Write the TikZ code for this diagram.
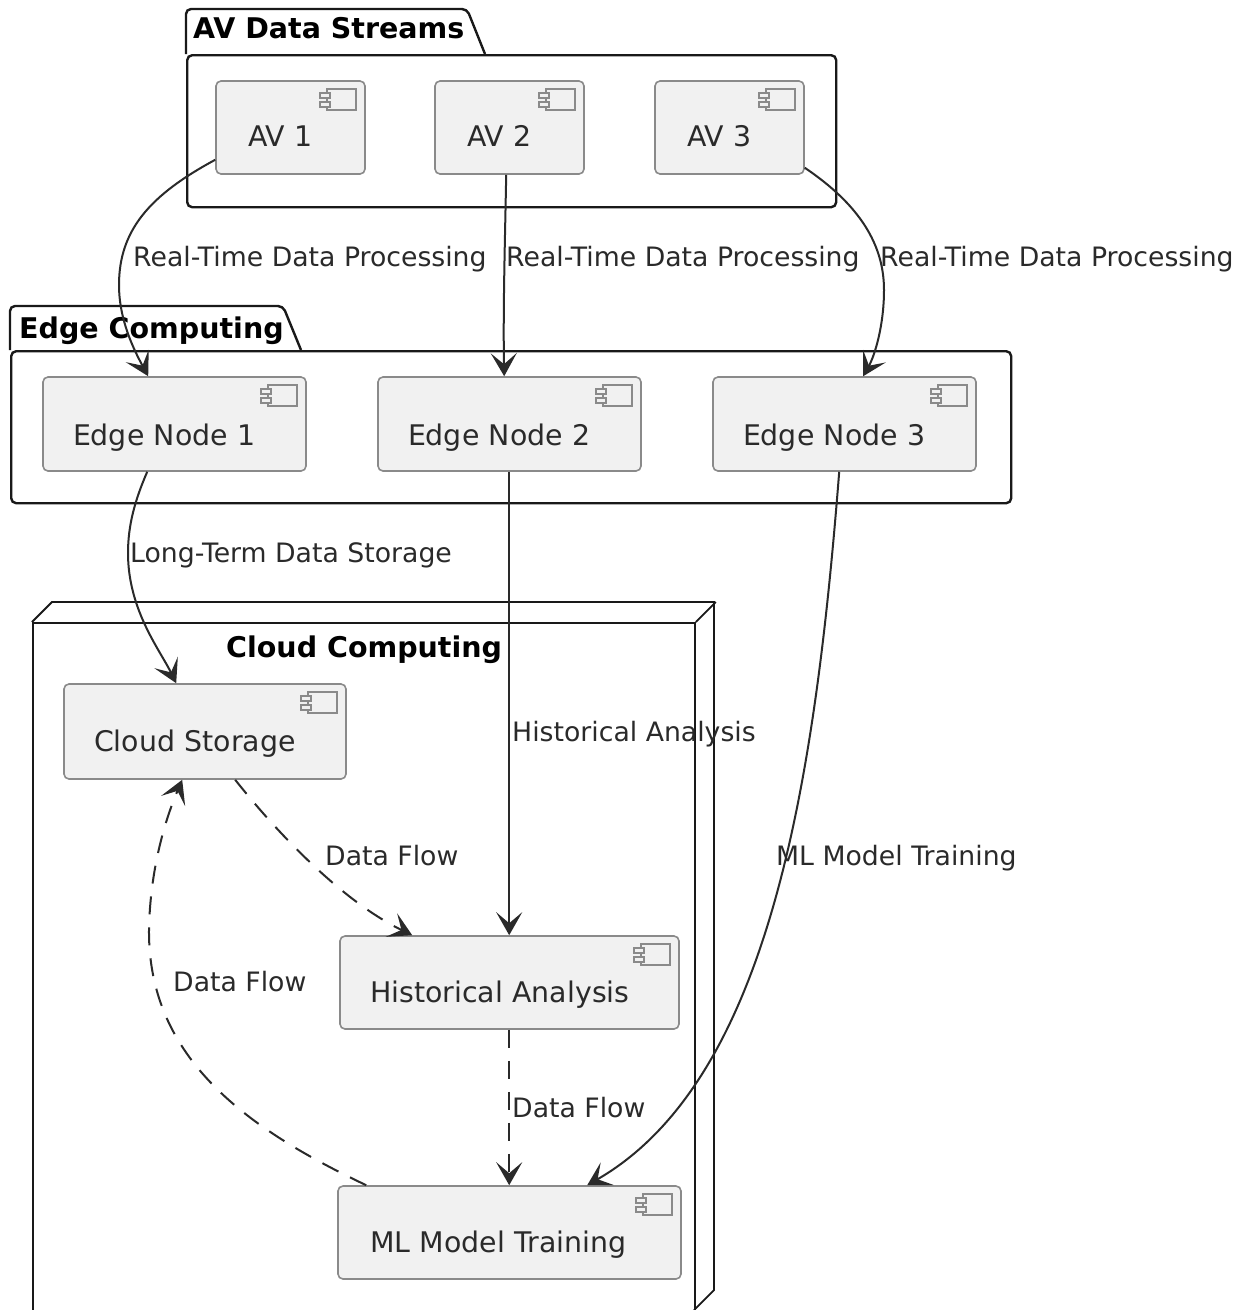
\documentclass[tikz,border=0pt]{standalone}
\usepackage{fontspec}
\setmainfont{DejaVu Sans}
\usetikzlibrary{arrows.meta,calc}
\definecolor{ink}{HTML}{2A2A2A}
\definecolor{boxline}{HTML}{8A8A8A}
\definecolor{boxfill}{HTML}{F1F1F1}
\tikzset{
  x=1pt,y=-1pt,
  comp/.style={draw=boxline,fill=boxfill,line width=1.6pt,rounded corners=5pt,inner xsep=30pt,inner ysep=0pt,
    align=left,text=ink,font=\fontsize{28.4}{30}\selectfont,text height=39pt,text depth=0pt},
  iconline/.style={draw=boxline,fill=boxfill,line width=1.6pt},
  pkg/.style={draw=black!90,line width=2.4pt,fill=white,rounded corners=5pt,inner sep=0pt},
  pkgtitle/.style={anchor=base west,inner sep=0pt,font=\fontsize{28.5}{30}\selectfont\bfseries,text=black},
  lbl/.style={anchor=base west,inner sep=0pt,font=\fontsize{26.7}{28}\selectfont,text=ink},
  tip/.tip={Stealth[length=23pt,width=26pt,inset=11pt]},
  flow/.style={draw=ink,line width=2pt,-tip},
  dflow/.style={draw=ink,line width=2pt,-tip,dash pattern=on 18pt off 13pt},
  nodebox/.style={draw=black!90,line width=1.8pt,fill=white,inner sep=0pt}
}
\newcommand{\compicon}[1]{%
  \path[iconline] ($(#1.north east)+(-39,9)$) rectangle ($(#1.north east)+(-10,30)$);
  \path[iconline] ($(#1.north east)+(-46,13)$) rectangle ($(#1.north east)+(-36,18)$);
  \path[iconline] ($(#1.north east)+(-46,22)$) rectangle ($(#1.north east)+(-36,27)$);
}
\begin{document}
\begin{tikzpicture}
\useasboundingbox (0,0) rectangle (1244,1310);
\clip (0,0) rectangle (1244,1310);
\fill[white] (0,0) rectangle (1244,1310);

% AV package
\draw[pkg] (186,54) -- (186,9) -- (467,9) -- (485,54);
\node[pkg,minimum width=649pt,minimum height=152pt,anchor=north west] (pav) at (186,54) {};
\node[pkgtitle] (tav) at (193,38) {AV Data Streams};
% Edge package
\draw[pkg] (10,350) -- (10,306) -- (283,306) -- (301,350);
\node[pkg,minimum width=1000pt,minimum height=152pt,anchor=north west] (ped) at (10,350) {};
\node[pkgtitle] (ted) at (19,338) {Edge Computing};
% Cloud node
\node[nodebox,minimum width=662pt,minimum height=760pt,anchor=north west] (cl) at (32,622) {};
\draw[draw=black!90,line width=1.8pt] (cl.north west) -- ++(20,-20) -- ++(662,0) -- ++(0,688) -- ++(-20,20);
\draw[draw=black!90,line width=1.8pt] (cl.north east) -- ++(20,-20);
\node[pkgtitle] (tcl) at (226,657) {Cloud Computing};

% Components
\node[comp,inner xsep=32pt,text height=37pt,minimum width=149pt,minimum height=93pt,text width=85pt] (av1) at (290.5,127.5) {AV 1};
\node[comp,inner xsep=32pt,text height=37pt,minimum width=149pt,minimum height=93pt,text width=85pt] (av2) at (509.5,127.5) {AV 2};
\node[comp,inner xsep=32pt,text height=37pt,minimum width=149pt,minimum height=93pt,text width=85pt] (av3) at (729.5,127.5) {AV 3};
\node[comp,inner xsep=30pt,text height=42pt,minimum width=263pt,minimum height=94pt,text width=203pt] (e1) at (174.5,424) {Edge Node 1};
\node[comp,inner xsep=30pt,text height=42pt,minimum width=263pt,minimum height=94pt,text width=203pt] (e2) at (509.5,424) {Edge Node 2};
\node[comp,inner xsep=30pt,text height=42pt,minimum width=263pt,minimum height=94pt,text width=203pt] (e3) at (844.5,424) {Edge Node 3};
\node[comp,minimum width=282pt,minimum height=95pt,text width=222pt] (cs) at (205,731.5) {Cloud Storage};
\node[comp,minimum width=339pt,minimum height=93pt,text width=279pt] (ha) at (509.5,982.5) {Historical Analysis};
\node[comp,inner xsep=32pt,minimum width=343pt,minimum height=93pt,text width=279pt] (ml) at (509.5,1232.5) {ML Model Training};
\foreach \n in {av1,av2,av3,e1,e2,e3,cs,ha,ml}{\compicon{\n}}

% Connectors
\draw[flow] ($(av1.south west)+(0,-15)$) .. controls (150,195) and (119,230) .. (119,285) .. controls (119,320) and (134,350) .. ($(e1.north west)+(106,0)$);
\draw[flow] ($(av2.south west)+(72,0)$) .. controls (505,240) and (503,310) .. ($(e2.north west)+(127,0)$);
\draw[flow] ($(av3.south east)+(0,-7)$) .. controls (860,205) and (884,245) .. (884,290) .. controls (884,325) and (875,355) .. ($(e3.north west)+(151,0)$);
\draw[flow] ($(e1.south west)+(105,0)$) .. controls (135,500) and (128,525) .. (128,553) .. controls (128,610) and (160,650) .. ($(cs.north west)+(113,0)$);
\draw[flow] ($(e2.south west)+(132,0)$) -- ($(ha.north west)+(170,0)$);
\draw[flow] ($(e3.south west)+(127,0)$) .. controls (815,780) and (770,1080) .. ($(ml.north west)+(250,0)$);
\draw[dflow] ($(cs.south west)+(172,0)$) .. controls (275,830) and (340,900) .. ($(ha.north west)+(73,0)$);
\draw[dflow] ($(ha.south west)+(170,0)$) -- ($(ml.north west)+(172,0)$);
\draw[dflow] ($(ml.north west)+(29,0)$) .. controls (250,1130) and (148,1060) .. (149,930) .. controls (150,870) and (165,820) .. ($(cs.south west)+(119,0)$);

% Labels
\node[lbl] (l1) at (133,266) {Real-Time Data Processing};
\node[lbl] (l2) at (506,266) {Real-Time Data Processing};
\node[lbl] (l3) at (880,266) {Real-Time Data Processing};
\node[lbl] (l4) at (130,562) {Long-Term Data Storage};
\node[lbl] (l5) at (512,741) {Historical Analysis};
\node[lbl] (l6) at (776,865) {ML Model Training};
\node[lbl] (l7) at (325,865) {Data Flow};
\node[lbl] (l8) at (173,991) {Data Flow};
\node[lbl] (l9) at (512,1117) {Data Flow};
\end{tikzpicture}
\end{document}
